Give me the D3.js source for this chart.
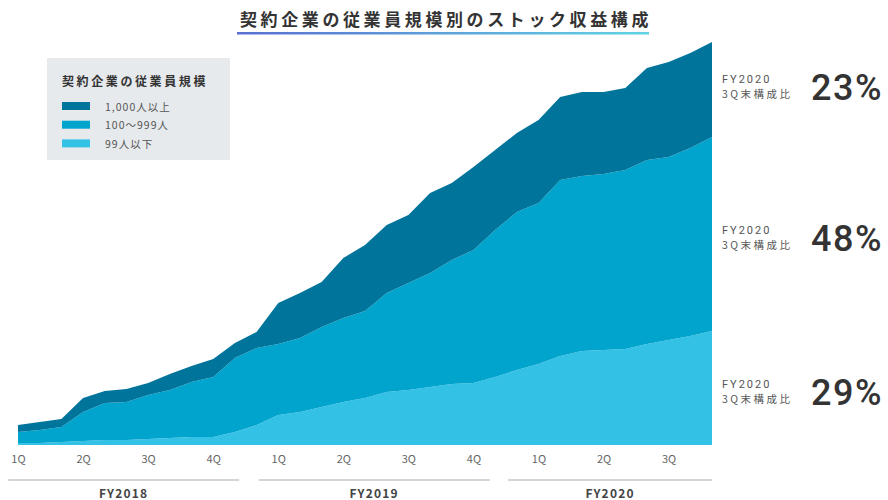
<!DOCTYPE html>
<html>
  <head>
    <meta charset="utf-8">
    <title>契約企業の従業員規模別のストック収益構成</title>
    <script src="https://d3js.org/d3.v7.min.js"></script>
    <style>
      body { margin: 0; background: #fff; }
      text { font-family: 'Noto Sans CJK JP', 'Noto Sans', sans-serif; }
    </style>
  </head>
  <body>
    <svg width="888" height="500"></svg>
</body>
</html>
<script>

// monthly values, FY2018 1Q .. FY2020 3Q (33 months), arbitrary units
const large = [7, 8, 8, 14, 12, 13, 12, 16, 16, 18, 15, 16, 41, 45, 45, 60, 66, 68, 68, 80, 77, 83, 80, 79, 83, 83, 84, 82, 82, 92, 95, 95, 95];
const mid   = [11, 13, 15, 29, 37, 38, 44, 48, 55, 60, 74, 77, 71, 74, 80, 84, 87, 99, 107, 114, 124, 133, 147, 158, 161, 176, 175, 176, 179, 184, 183, 188, 194];
const small = [2, 2, 3, 4, 5, 5, 6, 7, 8, 8, 13, 20, 30, 33, 38, 43, 47, 53, 55, 58, 61, 62, 68, 75, 81, 89, 94, 95, 96, 101, 105, 109, 114];

const quarterLabels = ['1Q', '2Q', '3Q', '4Q', '1Q', '2Q', '3Q', '4Q', '1Q', '2Q', '3Q'];
const fyGroups = [
  {label: 'FY2018', from: -0.45, to: 10.2},
  {label: 'FY2019', from: 11.1, to: 21.75},
  {label: 'FY2020', from: 22.6, to: 32}
];
const seriesKeys = ['small', 'mid', 'large'];
const seriesNames = {large: '1,000人以上', mid: '100〜999人', small: '99人以下'};
const colors = {large: '#00749a', mid: '#00a4cd', small: '#33c1e6'};
const shareLabels = {large: '23%', mid: '48%', small: '29%'};

const rows = small.map((d, i) => ({i, small: small[i], mid: mid[i], large: large[i]}));

const svg = d3.select('svg');

const x = d3.scaleLinear().domain([0, rows.length - 1]).range([18, 712]);
const y = d3.scaleLinear().domain([0, 400]).range([445, 45]);

const stack = d3.stack().keys(seriesKeys);
const layers = stack(rows);

const area = d3.area()
  .x(d => x(d.data.i))
  .y0(d => y(d[0]))
  .y1(d => y(d[1]));

svg.append('g')
  .selectAll('path')
  .data(layers)
  .enter()
  .append('path')
  .attr('d', area)
  .style('fill', d => colors[d.key]);

// title
svg.append('text')
  .attr('x', 446)
  .attr('y', 26)
  .attr('text-anchor', 'middle')
  .style('font-size', '17px')
  .style('font-weight', 'bold')
  .style('letter-spacing', '3.6px')
  .style('fill', '#333')
  .text('契約企業の従業員規模別のストック収益構成');

const grad = svg.append('defs').append('linearGradient')
  .attr('id', 'tgrad');
grad.append('stop').attr('offset', '0%').attr('stop-color', '#5a6fd2');
grad.append('stop').attr('offset', '100%').attr('stop-color', '#5fd3e3');
svg.append('rect')
  .attr('x', 237).attr('y', 32).attr('width', 412).attr('height', 2.5)
  .style('fill', 'url(#tgrad)');

// legend
const legend = svg.append('g');
legend.append('rect')
  .attr('x', 47).attr('y', 58).attr('width', 183).attr('height', 102)
  .style('fill', '#e7eaed');
legend.append('text')
  .attr('x', 62).attr('y', 86)
  .style('font-size', '12px')
  .style('font-weight', 'bold')
  .style('letter-spacing', '2.6px')
  .style('fill', '#333')
  .text('契約企業の従業員規模');

const legendItems = legend.selectAll('g.item')
  .data(['large', 'mid', 'small'])
  .enter()
  .append('g')
  .classed('item', true)
  .attr('transform', (d, i) => `translate(62,${102 + i * 18.7})`);
legendItems.append('rect')
  .attr('width', 28).attr('height', 8)
  .style('fill', d => colors[d]);
legendItems.append('text')
  .attr('x', 43).attr('y', 8.5)
  .style('font-size', '10.5px')
  .style('letter-spacing', '1px')
  .style('fill', '#555')
  .text(d => seriesNames[d]);

// right-side share labels, placed near each layer's end
const labelY = {large: 83, mid: 234, small: 388};
const shares = svg.selectAll('g.share')
  .data(['large', 'mid', 'small'])
  .enter()
  .append('g')
  .classed('share', true)
  .attr('transform', d => `translate(722,${labelY[d]})`);
shares.append('text')
  .attr('y', 0)
  .style('font-family', 'Roboto, sans-serif')
  .style('font-size', '11px')
  .style('letter-spacing', '2px')
  .style('fill', '#555')
  .text('FY2020');
shares.append('text')
  .attr('y', 14.5)
  .style('font-size', '10.5px')
  .style('letter-spacing', '2.5px')
  .style('fill', '#555')
  .text('3Q末構成比');
shares.append('text')
  .attr('x', 89)
  .attr('y', 17)
  .style('font-family', 'Roboto, sans-serif')
  .style('font-size', '36px')
  .style('font-weight', '500')
  .style('letter-spacing', '1.5px')
  .style('fill', '#333')
  .text(d => shareLabels[d]);

// x axis: quarter labels
const xAxis = d3.axisBottom(x)
  .tickValues(quarterLabels.map((q, i) => i * 3))
  .tickFormat((d, i) => quarterLabels[i])
  .tickSize(0)
  .tickPadding(9);

const axisG = svg.append('g')
  .attr('transform', 'translate(0,446)')
  .call(xAxis);
axisG.select('.domain').remove();
axisG.selectAll('text')
  .style('font-family', "'Noto Sans CJK JP', sans-serif")
  .style('font-size', '11px')
  .style('fill', '#666');

// fiscal year groups
const fy = svg.selectAll('g.fy')
  .data(fyGroups)
  .enter()
  .append('g')
  .classed('fy', true);
fy.append('line')
  .attr('x1', d => x(d.from))
  .attr('x2', d => x(d.to))
  .attr('y1', 480).attr('y2', 480)
  .style('stroke', '#c4c7cb')
  .style('stroke-width', 1.5);
fy.append('text')
  .attr('x', d => (x(d.from) + x(d.to)) / 2)
  .attr('y', 498)
  .attr('text-anchor', 'middle')
  .style('font-size', '12px')
  .style('font-weight', 'bold')
  .style('letter-spacing', '1.2px')
  .style('fill', '#444')
  .text(d => d.label);

</script>
